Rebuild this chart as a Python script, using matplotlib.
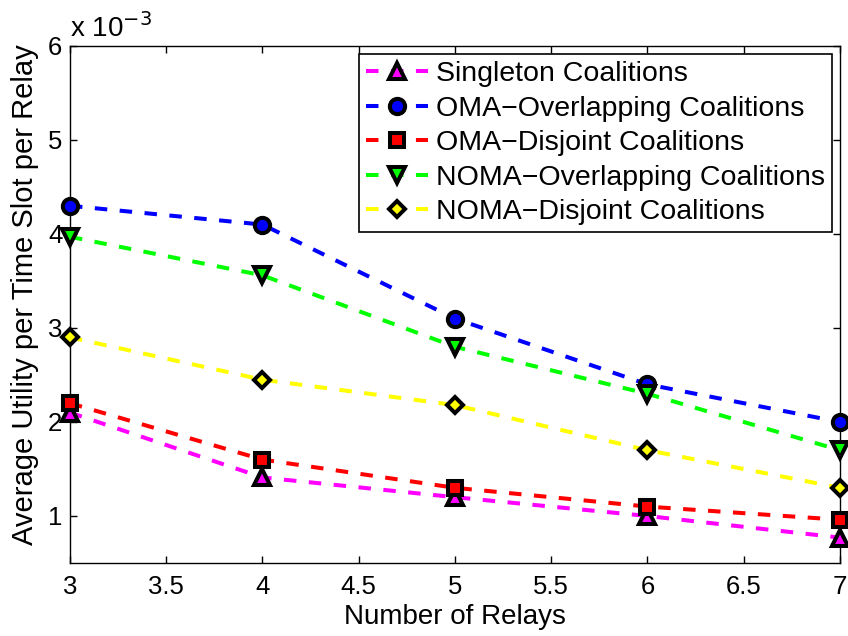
import matplotlib
matplotlib.use('Agg')
import matplotlib.pyplot as plt

plt.rcParams['font.family'] = ['Liberation Sans', 'DejaVu Sans']

relays = [3, 4, 5, 6, 7]
# values in units of 1e-3
singleton = [2.1, 1.41, 1.2, 1.0, 0.77]
oma_overlap = [4.3, 4.1, 3.1, 2.4, 2.0]
oma_disjoint = [2.2, 1.6, 1.3, 1.1, 0.96]
noma_overlap = [3.97, 3.56, 2.8, 2.3, 1.7]
noma_disjoint = [2.9, 2.45, 2.18, 1.7, 1.3]

series = [
    (singleton, 'Singleton Coalitions', '#ff00ff', '^'),
    (oma_overlap, 'OMA\u2212Overlapping Coalitions', '#0000ff', 'o'),
    (oma_disjoint, 'OMA\u2212Disjoint Coalitions', '#ff0000', 's'),
    (noma_overlap, 'NOMA\u2212Overlapping Coalitions', '#00ff00', 'v'),
    (noma_disjoint, 'NOMA\u2212Disjoint Coalitions', '#ffff00', 'D'),
]
sizes = {'^': 11.5, 'o': 11, 's': 9.5, 'v': 11.5, 'D': 8.5}

fig = plt.figure(figsize=(8.48, 6.36), dpi=100)
ax = fig.add_axes([0.0825, 0.1148, 0.908, 0.8129])

for vals, label, col, mk in series:
    ax.plot(relays, vals, linestyle=(0, (3.1, 3.1)), color=col, linewidth=2.9,
            marker=mk, markersize=sizes[mk], markerfacecolor=col,
            markeredgecolor='black', markeredgewidth=2.9, label=label,
            clip_on=False, zorder=3)

ax.set_xlim(3, 7)
ax.set_ylim(0.5, 6)
ax.set_xticks([3, 3.5, 4, 4.5, 5, 5.5, 6, 6.5, 7])
ax.set_xticklabels(['3', '3.5', '4', '4.5', '5', '5.5', '6', '6.5', '7'])
ax.set_yticks([1, 2, 3, 4, 5, 6])
ax.set_yticklabels(['1', '2', '3', '4', '5', '6'])
ax.tick_params(direction='in', top=True, right=True, labelsize=18.5, length=5,
               width=1, pad=9)
ax.tick_params(axis='y', pad=5.5)
for sp in ax.spines.values():
    sp.set_linewidth(1)

ax.set_xlabel('Number of Relays', fontsize=20)
ax.xaxis.set_label_coords(0.5, -0.079)
ax.set_ylabel('Average Utility per Time Slot per Relay', fontsize=21)
ax.yaxis.set_label_coords(-0.040, 0.52)
ax.text(0.0, 1.017, 'x 10$^{-3}$', transform=ax.transAxes, fontsize=20,
        ha='left', va='baseline')

leg = ax.legend(loc='upper right', bbox_to_anchor=(0.99, 0.9845), fontsize=20.5,
                handlelength=2.15, handletextpad=0.3, borderpad=0.25,
                labelspacing=0.3, fancybox=False, framealpha=1,
                edgecolor='black', borderaxespad=0)
leg.get_frame().set_linewidth(1.2)
leg.set_zorder(5)

fig.savefig('out.png', dpi=100)
